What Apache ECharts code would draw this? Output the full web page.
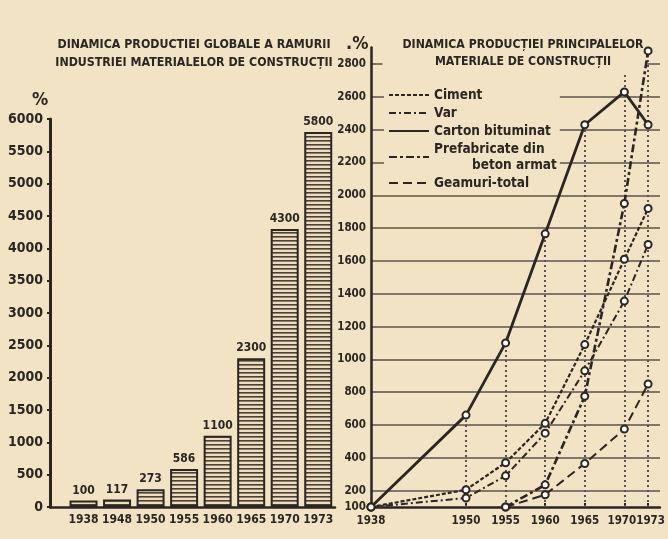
<!DOCTYPE html>
<html>
<head>
<meta charset="utf-8">
<script src="https://cdn.jsdelivr.net/npm/echarts@6/dist/echarts.min.js"></script>
<style>
html,body{margin:0;padding:0;background:#f2e3c5;}
#c{width:668px;height:539px;}
</style>
</head>
<body>
<div id="c"></div>
<script>
// ---- data: left chart (global production index, %) ----
const barYears = ['1938','1948','1950','1955','1960','1965','1970','1973'];
const barValues = [100,117,273,586,1100,2300,4300,5800];

// ---- data: right chart (main building materials, %) ----
const lineYears = [1938,1950,1955,1960,1965,1970,1973];
const ciment  = [100,205,370,610,1090,1610,1920];
const varVals = [100,155,290,550,930,1355,1700];
const carton  = [100,660,1100,1765,2430,2630,2430];
const prefab  = [null,null,100,235,775,1950,2880];
const geamuri = [null,null,100,175,365,575,850];
const rightLabels = [100,200,400,600,800,1000,1200,1400,1600,1800,2000,2200,2400,2600,2800];
const legendNames = ['Ciment','Var','Carton bituminat','Prefabricate din\n         beton armat','Geamuri-total'];
// vertical dotted drop lines: they rise to the highest point of each year,
// the last two run further up the chart
const dropYears = [1950,1955,1960,1965,1970,1973];
const dropExtraTop = {1970:2750, 1973:2900};

const INK = '#2b2622';
const BG = '#f2e3c5';
const FONT = "'Liberation Sans Narrow', 'DejaVu Sans Condensed', 'Liberation Sans', sans-serif";

function pairs(vals){
  const out = [];
  vals.forEach((v,i)=>{ if(v!==null) out.push([lineYears[i], v]); });
  return out;
}
const allSeries = [ciment, varVals, carton, prefab, geamuri];
const dropLines = dropYears.map(y=>{
  const i = lineYears.indexOf(y);
  let top = Math.max.apply(null, allSeries.map(s=>s[i]===null?0:s[i]));
  if (dropExtraTop[y]) top = dropExtraTop[y];
  return [{coord:[y,100]},{coord:[y,top]}];
});

// striped pattern for bars
const pc = document.createElement('canvas');
pc.width = 8; pc.height = 4;
const g = pc.getContext('2d');
g.fillStyle = '#eddcbc'; g.fillRect(0,0,8,4);
g.fillStyle = '#4a4038'; g.fillRect(0,0,8,1.6);

const chart = echarts.init(document.getElementById('c'), null, {renderer:'canvas'});

function lineSeries(name, vals, lineStyle, extra){
  return Object.assign({
    type:'line', name:name, data:pairs(vals),
    xAxisIndex:1, yAxisIndex:1, symbol:'emptyCircle', symbolSize:7,
    itemStyle:{color:INK, borderColor:INK, borderWidth:1.6},
    lineStyle:Object.assign({color:INK}, lineStyle),
    clip:false, z:5
  }, extra||{});
}

const option = {
  backgroundColor: BG,
  animation:false,
  textStyle:{fontFamily:FONT, color:INK},
  title:[
    {text:'DINAMICA PRODUCTIEI GLOBALE A RAMURII\nINDUSTRIEI MATERIALELOR DE CONSTRUCȚII',
     left:189, top:31, textAlign:'center',
     textStyle:{fontFamily:FONT, fontSize:12.3, fontWeight:'bold', color:INK, lineHeight:18, align:'center'}},
    {text:'%', left:27, top:86, textStyle:{fontFamily:FONT, fontSize:18, fontWeight:'bold', color:INK}},
    {text:'DINAMICA PRODUCȚIEI PRINCIPALELOR\nMATERIALE DE CONSTRUCȚII',
     left:503, top:33, textAlign:'center', z:3, padding:[3,4,3,20], backgroundColor:BG,
     textStyle:{fontFamily:FONT, fontSize:12.2, fontWeight:'bold', color:INK, lineHeight:17, align:'center'}},
    {text:'.%', left:341, top:30, z:4, textStyle:{fontFamily:FONT, fontSize:18, fontWeight:'bold', color:INK}}
  ],
  legend:{
    left:384, top:84, orient:'vertical', itemWidth:40, itemHeight:8, itemGap:2,
    padding:[3,3,4,4], backgroundColor:BG, z:3,
    textStyle:{fontFamily:FONT, fontSize:13.5, fontWeight:'bold', color:INK, lineHeight:16},
    itemStyle:{opacity:0},
    data:legendNames
  },
  grid:[
    {left:50, right:333, top:119, bottom:32},
    {left:371, right:0, top:47.6, bottom:32}
  ],
  xAxis:[
    {gridIndex:0, type:'value', min:-1, max:7.5, interval:1,
     axisLine:{onZero:false, lineStyle:{color:INK, width:2.5}}, axisTick:{show:false},
     splitLine:{show:false},
     axisLabel:{formatter:v=>barYears[v]||'', color:INK, fontFamily:FONT, fontSize:12, fontWeight:'bold', margin:7}},
    {gridIndex:1, type:'value', min:1938, max:1974.5,
     axisLine:{onZero:false, lineStyle:{color:INK, width:2.5}},
     axisTick:{show:true, customValues:lineYears, length:4, inside:true, lineStyle:{color:INK, width:2}},
     splitLine:{show:false},
     axisLabel:{customValues:lineYears, hideOverlap:false, color:INK, fontFamily:FONT, fontSize:11.5, fontWeight:'bold', margin:8,
       showMinLabel:true, showMaxLabel:true,
       formatter:v=> v===1970 ? '{a|1970}' : (v===1973 ? '{b|1973}' : String(v)),
       rich:{a:{fontFamily:FONT, fontSize:11.5, fontWeight:'bold', color:INK, padding:[0,5,0,0]},
             b:{fontFamily:FONT, fontSize:11.5, fontWeight:'bold', color:INK, padding:[0,0,0,5]}}}}
  ],
  yAxis:[
    {gridIndex:0, type:'value', min:0, max:6000, interval:500,
     axisLine:{show:true, onZero:false, lineStyle:{color:INK, width:3}},
     axisTick:{show:true, length:3, lineStyle:{color:INK, width:2}},
     splitLine:{show:false},
     axisLabel:{formatter:v=>String(v), color:INK, fontFamily:FONT, fontSize:14, fontWeight:'bold', margin:7}},
    {gridIndex:1, type:'value', min:100, max:2900, interval:100,
     axisLine:{show:true, onZero:false, lineStyle:{color:INK, width:2.5}},
     axisTick:{show:false},
     splitLine:{show:true, lineStyle:{color:['rgba(0,0,0,0)','#5a524a'], width:1.6}},
     axisLabel:{color:INK, fontFamily:FONT, fontSize:11.5, fontWeight:'bold', margin:5,
       formatter:v=> rightLabels.indexOf(v)>=0 ? String(v) : ''}}
  ],
  series:[
    {type:'bar', xAxisIndex:0, yAxisIndex:0, barWidth:28,
     data: barValues.map((v,i)=>[i,v]),
     itemStyle:{color:{image:pc, repeat:'repeat'}, borderColor:INK, borderWidth:2},
     label:{show:true, position:'top', distance:4, color:INK, fontFamily:FONT, fontSize:12, fontWeight:'bold',
       formatter:p=>String(p.value[1])}},
    lineSeries(legendNames[0], ciment, {width:2.2, type:[4,2]}),
    lineSeries(legendNames[1], varVals, {width:2, type:[7,3,2,3]}),
    lineSeries(legendNames[2], carton, {width:2.8, type:'solid'}, {
      markLine:{silent:true, symbol:'none', label:{show:false}, z:4,
        lineStyle:{color:'#5a524a', type:[2,3], width:2},
        data:dropLines}}),
    lineSeries(legendNames[3], prefab, {width:2.6, type:[8,3,3,3]}),
    lineSeries(legendNames[4], geamuri, {width:2, type:[9,5]})
  ]
};
chart.setOption(option);
</script>
</body>
</html>
